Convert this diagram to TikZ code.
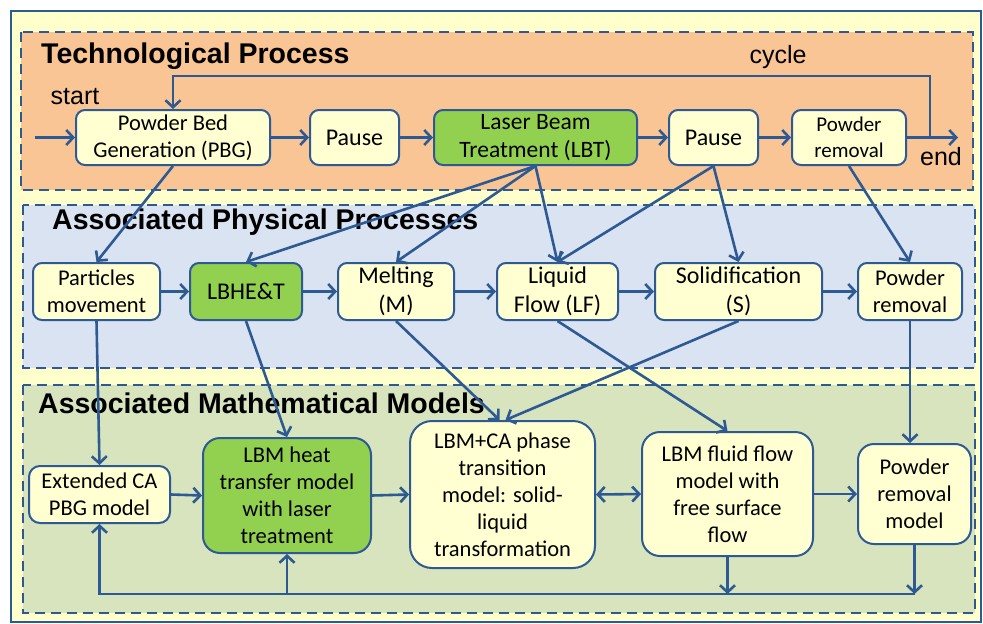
\documentclass[tikz,border=0pt]{standalone}
\usepackage{fontspec}
\setmainfont{Carlito}
\newfontfamily\arialf{Liberation Sans}
\usetikzlibrary{arrows.meta}
\definecolor{outerY}{HTML}{FFFFCC}
\definecolor{techO}{HTML}{FAC594}
\definecolor{physB}{HTML}{DAE3F1}
\definecolor{mathG}{HTML}{D7E4BD}
\definecolor{boxY}{HTML}{FFFFD2}
\definecolor{boxG}{HTML}{92D050}
\definecolor{ln}{HTML}{2E5A94}
\tikzset{
  bx/.style={draw=ln, line width=2pt, rounded corners=9pt, fill=boxY, align=center,
    font=\fontsize{22.5}{27}\selectfont, inner sep=0pt},
  gbx/.style={bx, fill=boxG},
  tip/.tip={Straight Barb[length=7pt,width=15pt,line width=2.6pt]},
  conn/.style={draw=ln, line width=2.6pt, -tip},
  dbox/.style={draw=ln, line width=2pt, dash pattern=on 10pt off 6pt},
  ttl/.style={font=\arialf\bfseries\fontsize{28.5}{32}\selectfont, anchor=base west, inner sep=0pt},
  lbl/.style={font=\arialf\fontsize{25}{28}\selectfont, inner sep=0pt}
}
\begin{document}
\begin{tikzpicture}[x=1pt,y=-1pt]
\useasboundingbox (0,0) rectangle (983,624);
% outer
\path[fill=outerY, draw=ln, line width=1.5pt] (11,11) rectangle (981,622);
% section boxes
\path[fill=techO] (21,32) rectangle (973,190);
\draw[dbox] (21,32) rectangle (973,190);
\path[fill=physB] (23,205) rectangle (975,368);
\draw[dbox] (23,205) rectangle (975,368);
\path[fill=mathG] (23,385) rectangle (975,613);
\draw[dbox] (23,385) rectangle (975,613);
% titles
\node[ttl] (t1) at (41,63) {Technological Process};
\node[ttl] (t2) at (52,229) {Associated Physical Processes};
\node[ttl] (t3) at (38,413) {Associated Mathematical Models};
% top row
\node[bx, minimum width=194, minimum height=55] (PBG) at (173,137.5) {Powder Bed\\Generation (PBG)};
\node[bx, minimum width=89, minimum height=55, font=\fontsize{24}{28}\selectfont] (P1) at (354.5,137.5) {Pause};
\node[gbx, minimum width=203, minimum height=55, font=\fontsize{23.5}{28}\selectfont] (LBT) at (535.5,137.5) {Laser Beam\\Treatment (LBT)};
\node[bx, minimum width=89, minimum height=55, font=\fontsize{24}{28}\selectfont] (P2) at (713.5,137.5) {Pause};
\node[bx, minimum width=114, minimum height=55, font=\fontsize{21}{26}\selectfont] (PR1) at (849,137.5) {Powder\\removal};
% physical row
\node[bx, minimum width=127, minimum height=57] (Part) at (96.5,291.5) {Particles\\movement};
\node[gbx, minimum width=112, minimum height=57, font=\fontsize{24}{28}\selectfont] (LBHE) at (246,291.5) {LBHE\&T};
\node[bx, minimum width=116, minimum height=57, font=\fontsize{24}{29}\selectfont] (Melt) at (396,291.5) {Melting\\(M)};
\node[bx, minimum width=121, minimum height=57, font=\fontsize{24}{29}\selectfont] (LF) at (557.5,291.5) {Liquid\\Flow (LF)};
\node[bx, minimum width=167, minimum height=57, font=\fontsize{24}{29}\selectfont] (Sol) at (738.5,291.5) {Solidification\\(S)};
\node[bx, minimum width=104, minimum height=57] (PR2) at (910,291.5) {Powder\\removal};
% math row
\node[bx, minimum width=141, minimum height=57, rounded corners=11pt] (Ext) at (99.5,494.5) {Extended CA\\PBG model};
\node[gbx, minimum width=168, minimum height=115, rounded corners=17pt] (Heat) at (287,495.5) {LBM heat\\transfer model\\with laser\\treatment};
\node[bx, minimum width=185, minimum height=147, rounded corners=22pt] (CA) at (502.5,494.5) {LBM+CA phase\\transition\\model: solid-\\liquid\\transformation};
\node[bx, minimum width=171, minimum height=124, rounded corners=18pt] (Fl) at (727.5,494) {LBM fluid flow\\model with\\free surface\\flow};
\node[bx, minimum width=113, minimum height=100, rounded corners=16pt] (PRM) at (914.5,494) {Powder\\removal\\model};
% labels
\node[lbl] (ls) at (75,97) {start};
\node[lbl] (lc) at (778,57) {cycle};
\node[lbl] (le) at (941,157) {end};
% coordinates
\coordinate (st) at (35,137.5);
\coordinate (en) at (958,137.5);
\coordinate (cy1) at (930,137.5);
\coordinate (cy2) at (930,76);
\coordinate (cy3) at (173,76);
\coordinate (b1) at (727.5,594);
\coordinate (b2) at (914.5,594);
\coordinate (b3) at (99.5,594);
\coordinate (b4) at (287,594);
% top row connectors
\draw[conn] (st) -- (PBG.west);
\draw[conn] (PBG.east) -- (P1.west);
\draw[conn] (P1.east) -- (LBT.west);
\draw[conn] (LBT.east) -- (P2.west);
\draw[conn] (P2.east) -- (PR1.west);
\draw[conn] (PR1.east) -- (en);
\draw[conn] (cy1) -- (cy2) -- (cy3) -- (PBG.north);
% physical row connectors
\draw[conn] (Part.east) -- (LBHE.west);
\draw[conn] (LBHE.east) -- (Melt.west);
\draw[conn] (Melt.east) -- (LF.west);
\draw[conn] (LF.east) -- (Sol.west);
\draw[conn] (Sol.east) -- (PR2.west);
% top -> physical
\draw[conn] (PBG.south) -- (Part.north);
\draw[conn] (LBT.south) -- (LBHE.north);
\draw[conn] (LBT.south) -- (Melt.north);
\draw[conn] (LBT.south) -- (LF.north);
\draw[conn] (P2.south) -- (LF.north);
\draw[conn] (P2.south) -- (Sol.north);
\draw[conn] (PR1.south) -- (PR2.north);
% physical -> math
\draw[conn] (Part.south) -- (Ext.north);
\draw[conn] (LBHE.south) -- (Heat.north);
\draw[conn] (Melt.south) -- ([xshift=-3pt]CA.north);
\draw[conn] (Sol.south) -- ([xshift=3pt]CA.north);
\draw[conn] (LF.south) -- (Fl.north);
\draw[conn] (PR2.south) -- (PR2.south |- PRM.north);
% math row connectors
\draw[conn] (Ext.east) -- (Heat.west);
\draw[conn] (Heat.east) -- (CA.west);
\draw[conn, tip-tip] (CA.east) -- (Fl.west);
\draw[conn] (Fl.east) -- (PRM.west);
% feedback
\draw[conn] (Fl.south) -- (b1);
\draw[conn] (PRM.south) -- (b2);
\draw[conn] (b2) -- (b3) -- (Ext.south);
\draw[conn] (b4) -- (Heat.south);
\end{tikzpicture}
\end{document}
